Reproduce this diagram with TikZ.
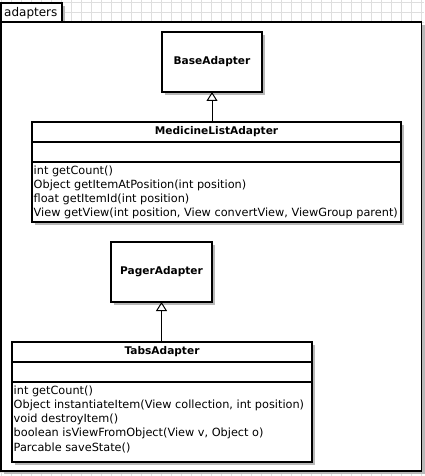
\documentclass[tikz,border=0pt]{standalone}
\usepackage{fontspec}
\setmainfont{DejaVu Sans}
\usetikzlibrary{arrows.meta}
\definecolor{gridc}{HTML}{DEDEDE}
\definecolor{shadowc}{HTML}{B8B8B8}
\tikzset{
  x=1pt, y=-1pt,
  ln/.style={draw=black, line width=1.1pt},
  comp/.style={ln, fill=white, inner sep=0pt, outer sep=0pt, anchor=north west},
  cname/.style={font=\fontsize{10.6}{12}\selectfont\bfseries},
  ops/.style={font=\fontsize{11.3}{14.2}\selectfont, align=left, anchor=north west, inner sep=0pt},
  gen/.style={-{Triangle[open,length=9pt,width=11pt]}, line width=1pt},
  shd/.style={fill=shadowc, draw=none},
}
\begin{document}
\begin{tikzpicture}
\useasboundingbox (0,0) rectangle (424,476);
\fill[white] (0,0) rectangle (424,476);
\foreach \gx in {1,11,...,421} \draw[gridc, line width=0.8pt] (\gx,0) -- (\gx,476);
\foreach \gy in {2,12,...,472} \draw[gridc, line width=0.8pt] (0,\gy) -- (424,\gy);
% package frame
\fill[shd] (4,6) rectangle (65,25);
\fill[shd] (4,25) rectangle (424.5,474);
\node[comp, minimum width=61, minimum height=19] (tab) at (1,3) {};
\node[comp, minimum width=420.5, minimum height=449] (frame) at (1,22) {};
\node[font=\fontsize{12}{14}\selectfont, anchor=west, inner sep=0pt] (tablabel) at (4,13.5) {adapters};
% BaseAdapter
\fill[shd] (165,35) rectangle (265,95);
\node[comp, cname, minimum width=100, minimum height=60] (base) at (162,32) {BaseAdapter};
% MedicineListAdapter
\fill[shd] (35,125) rectangle (404,225);
\node[comp, cname, minimum width=369, minimum height=20] (mlaname) at (32,122) {MedicineListAdapter};
\node[comp, minimum width=369, minimum height=20] (mlaattr) at (32,142) {};
\node[comp, minimum width=369, minimum height=60] (mlaops) at (32,162) {};
\node[ops] (mlatext) at (33.5,165.5) {int getCount()\\Object getItemAtPosition(int position)\\float getItemId(int position)\\View getView(int position, View convertView, ViewGroup parent)};
\draw[gen] (mlaname.north -| base.south) -- (base.south);
% PagerAdapter
\fill[shd] (114,245) rectangle (215,305);
\node[comp, cname, minimum width=101, minimum height=60] (pager) at (111,242) {PagerAdapter};
% TabsAdapter
\fill[shd] (15,345) rectangle (315,465);
\node[comp, cname, minimum width=300, minimum height=20] (tabsname) at (12,342) {TabsAdapter};
\node[comp, minimum width=300, minimum height=20] (tabsattr) at (12,362) {};
\node[comp, minimum width=300, minimum height=80] (tabsops) at (12,382) {};
\node[ops] (tabstext) at (13.5,385.5) {int getCount()\\Object instantiateItem(View collection, int position)\\void destroyItem()\\boolean isViewFromObject(View v, Object o)\\Parcable saveState()};
\draw[gen] (tabsname.north -| pager.south) -- (pager.south);
\end{tikzpicture}
\end{document}
